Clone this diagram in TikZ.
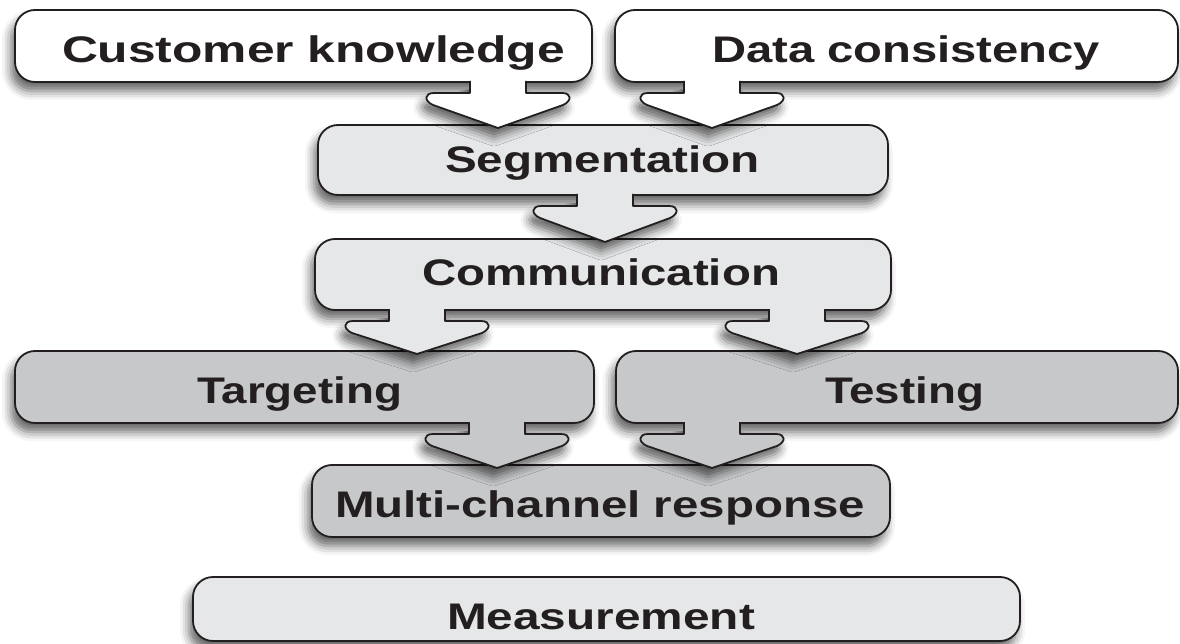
\documentclass[tikz,border=0pt]{standalone}
\usepackage{fontspec}
\usepackage{graphicx}
\setsansfont{Liberation Sans}
\usetikzlibrary{calc,shadows.blur}

\definecolor{ink}{HTML}{231F20}
\definecolor{paleFill}{HTML}{E6E7E8}
\definecolor{midFill}{HTML}{C7C8CA}

% set a label and stretch it horizontally to a given width (in pt)
\newcommand\fitto[2]{\sbox0{#2}\pgfmathsetmacro\fitscale{#1/\the\wd0}\scalebox{\fitscale}[1]{\usebox0}}

% block arrow hanging from the bottom edge of #1 at the x of #2, tip just inside #3
\newcommand\flowarrow[4]{%
  \path[arrowbody, fill=#4] let \p1=(#1.south -| #2), \p2=(#3.north) in
    (\x1-28pt,\y1+1pt) -- (\x1-28pt,\y1-11pt) -- (\x1-64pt,\y1-11pt)
    .. controls (\x1-74pt,\y1-11pt) and (\x1-74pt,\y1-19pt) .. (\x1-65pt,\y1-23pt)
    -- (\x1,\y2-3pt) -- (\x1+65pt,\y1-23pt)
    .. controls (\x1+74pt,\y1-19pt) and (\x1+74pt,\y1-11pt) .. (\x1+64pt,\y1-11pt)
    -- (\x1+28pt,\y1-11pt) -- (\x1+28pt,\y1+1pt);}

\tikzset{
  dropshade/.style={blur shadow={shadow xshift=-4pt, shadow yshift=-9pt,
      shadow blur radius=9pt, shadow opacity=60}},
  box/.style={draw=ink, line width=1.8pt, rounded corners=20pt,
      inner sep=0pt, outer sep=0pt, dropshade},
  boxlabel/.style={anchor=base, inner sep=0pt, outer sep=0pt, text=ink,
      font=\sffamily\bfseries\fontsize{37pt}{40pt}\selectfont},
  arrowbody/.style={draw=ink, line width=1.8pt, line join=round, dropshade},
}

\begin{document}
\begin{tikzpicture}[x=1pt, y=-1pt]
  \useasboundingbox (0,0) rectangle (1180,644);

  % boxes, top to bottom
  \node[box, fill=white,    minimum width=577pt, minimum height=72pt] (CK) at (303.5,46) {};
  \node[box, fill=white,    minimum width=563pt, minimum height=72pt] (DC) at (896.5,46) {};
  \node[box, fill=paleFill, minimum width=570pt, minimum height=70pt] (SG) at (603,160) {};
  \node[box, fill=paleFill, minimum width=576pt, minimum height=71pt] (CM) at (603,274.5) {};
  \node[box, fill=midFill,  minimum width=579pt, minimum height=72pt] (TG) at (304.5,387) {};
  \node[box, fill=midFill,  minimum width=562pt, minimum height=72pt] (TS) at (897,387) {};
  \node[box, fill=midFill,  minimum width=578pt, minimum height=72pt] (MC) at (601,501) {};
  \node[box, fill=paleFill, minimum width=827pt, minimum height=64pt] (MS) at (606.5,609) {};

  % labels
  \node[boxlabel] (CKt) at (313.5,63) {\fitto{503}{Customer knowledge}};
  \node[boxlabel] (DCt) at (906,63)   {\fitto{388}{Data consistency}};
  \node[boxlabel] (SGt) at (602.5,173) {\fitto{315}{Segmentation}};
  \node[boxlabel] (CMt) at (601,285)  {\fitto{358}{Communication}};
  \node[boxlabel] (TGt) at (299.5,403) {\fitto{205}{Targeting}};
  \node[boxlabel] (TSt) at (904.5,403) {\fitto{159}{Testing}};
  \node[boxlabel] (MCt) at (600,517)  {\fitto{530}{Multi-channel response}};
  \node[boxlabel] (MSt) at (601,629)  {\fitto{308}{Measurement}};

  % x positions of the block arrows
  \coordinate (xCK) at (498,0);
  \coordinate (xDC) at (712,0);
  \coordinate (xSG) at (605,0);
  \coordinate (xCMl) at (417,0);
  \coordinate (xCMr) at (797,0);
  \coordinate (xTG) at (497,0);
  \coordinate (xTS) at (712,0);

  % block arrows
  \flowarrow{CK}{xCK}{SG}{white}
  \flowarrow{DC}{xDC}{SG}{white}
  \flowarrow{SG}{xSG}{CM}{paleFill}
  \flowarrow{CM}{xCMl}{TG}{paleFill}
  \flowarrow{CM}{xCMr}{TS}{paleFill}
  \flowarrow{TG}{xTG}{MC}{midFill}
  \flowarrow{TS}{xTS}{MC}{midFill}
\end{tikzpicture}
\end{document}
